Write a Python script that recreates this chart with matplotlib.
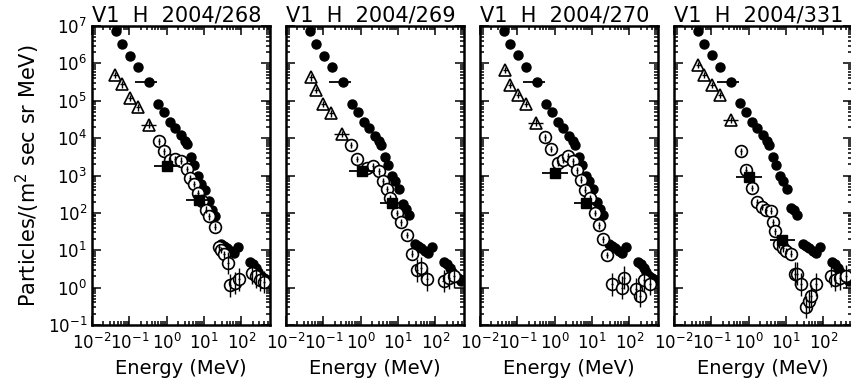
import numpy as np
import matplotlib.pyplot as plt
from matplotlib.ticker import LogLocator

titles = ['V1  H  2004/268', 'V1  H  2004/269', 'V1  H  2004/270', 'V1  H  2004/331']

# low energy filled circles (same energies in every panel)
lo_E = [0.044, 0.065, 0.107, 0.17, 0.34, 0.60, 0.85, 1.2, 1.7, 2.35,
        3.1, 3.55, 4.4, 5.5, 6.8, 8.3, 10.5, 13.8, 16.2, 19.5]
lo_J = [
    [7.2e6, 3.4e6, 1.6e6, 7.8e5, 3.2e5, 8.3e4, 4.9e4, 2.7e4, 1.85e4, 1.18e4,
     8.5e3, 6.9e3, 3.2e3, 1.95e3, 950, 590, 420, 205, 123, 81],
    [7.2e6, 3.4e6, 1.6e6, 7.8e5, 3.2e5, 8.3e4, 4.9e4, 2.7e4, 1.85e4, 1.15e4,
     8.5e3, 6.4e3, 3.2e3, 1.95e3, 1.0e3, 700, 440, 178, 128, 90],
    [7.2e6, 3.4e6, 1.65e6, 7.8e5, 3.2e5, 8.3e4, 4.9e4, 2.7e4, 1.85e4, 1.15e4,
     8.5e3, 6.4e3, 3.2e3, 1.95e3, 1.0e3, 700, 440, 190, 128, 90],
    [7.2e6, 3.4e6, 1.65e6, 7.8e5, 3.2e5, 8.6e4, 4.9e4, 2.7e4, 1.85e4, 1.18e4,
     8.5e3, 6.4e3, 3.2e3, 1.95e3, 1.0e3, 730, 440, 136, 123, 90],
]
lo_xerr_i = 4  # point with horizontal bar

# filled circles at ~20-90 MeV and ~150-500 MeV
mid_E = [27.5, 34, 42, 51, 63, 83]
mid_J = [14.8, 13.2, 11.2, 9.5, 8.3, 12.0]
hi_E = [166, 200, 240, 282, 331, 398, 479]
hi_J = [4.9, 4.2, 3.3, 2.6, 2.1, 1.8, 1.5]

# open circles with error bars
oc_E = [
    [0.61, 0.83, 1.25, 1.66, 2.47, 3.5, 4.3, 5.3, 6.9, 8.8, 11.3, 13.9, 20,
     24.7, 28.8, 33.7, 44, 50.7, 66, 85, 186, 251, 316, 398],
    [0.56, 0.81, 1.51, 2.18, 3.09, 4.05, 4.97, 6.1, 9.6, 11.8, 17.8, 24.2,
     31.6, 40.5, 61, 164, 224, 316],
    [0.56, 0.81, 1.23, 1.67, 2.28, 3.09, 4.05, 4.97, 6.4, 8.7, 11.8, 15.1,
     19.7, 25.8, 34.4, 63.7, 72, 154, 189, 251, 355],
    [0.61, 0.87, 1.23, 1.71, 2.28, 2.97, 3.88, 4.49, 4.97, 6.4, 8.3, 10.2,
     13.3, 17.1, 20.1, 25.8, 35.1, 40.5, 47.8, 65, 157, 200, 282, 398],
]
oc_J = [
    [8150, 4400, 2630, 2690, 2490, 1510, 850, 590, 340, 204, 123, 81, 43,
     12, 10, 7.7, 4.6, 1.15, 1.35, 1.66, 2.5, 2.0, 1.6, 1.4],
    [6640, 2810, 1585, 1750, 1290, 700, 437, 251, 100, 56, 25.4, 8.1,
     2.9, 3.4, 1.67, 1.5, 1.8, 2.0],
    [10400, 5200, 2150, 2640, 3240, 2390, 1370, 775, 420, 251, 100, 46,
     19.5, 7.4, 1.23, 1.0, 1.85, 0.9, 0.6, 1.6, 1.26],
    [4400, 1430, 465, 196, 142, 123, 115, 56, 32, 14.3, 11.2, 9.5, 8.1,
     2.36, 2.36, 1.23, 0.305, 0.44, 0.6, 1.23, 2.05, 1.58, 1.78, 2.0],
]

# filled squares
sq_E = [[1.0, 7.2], [1.1, 7.0], [1.0, 7.0], [1.0, 8.0]]
sq_J = [[1750, 227], [1300, 185], [1170, 185], [894, 18.3]]

# open triangles
tr_E = [
    [0.042, 0.064, 0.106, 0.17, 0.34],
    [0.047, 0.062, 0.10, 0.164, 0.32],
    [0.047, 0.062, 0.104, 0.17, 0.32],
    [0.044, 0.064, 0.106, 0.174, 0.34],
]
tr_J = [
    [4.9e5, 2.75e5, 1.2e5, 6.6e4, 2.3e4],
    [4.2e5, 1.95e5, 8.1e4, 4.6e4, 1.28e4],
    [6.6e5, 2.6e5, 1.43e5, 8.2e4, 2.6e4],
    [9.0e5, 4.9e5, 2.64e5, 1.43e5, 3.1e4],
]

plt.rcParams['font.family'] = 'DejaVu Sans'
fig = plt.figure(figsize=(8.51, 3.90), dpi=100)

W = 178 / 851
H = 299 / 390
B = 1 - 325 / 390
lefts = [92, 286, 480, 674]


def logerr(x, f):
    x = np.asarray(x, float)
    return [x - x / f, x * f - x]


for k in range(4):
    ax = fig.add_axes([lefts[k] / 851, B, W, H])
    ax.set_xscale('log')
    ax.set_yscale('log')
    ax.set_xlim(1e-2, 580)
    ax.set_ylim(1e-1, 1e7)

    # low energy filled circles
    E = np.array(lo_E)
    J = np.array(lo_J[k])
    ax.plot(E, J, 'o', color='black', ms=6.5, zorder=4)
    ax.errorbar(E[lo_xerr_i], J[lo_xerr_i],
                xerr=[[E[lo_xerr_i] * 0.58], [E[lo_xerr_i] * 0.6]],
                fmt='none', ecolor='black', elinewidth=1.3, zorder=4)

    ax.plot(mid_E, mid_J, 'o', color='black', ms=6.5, zorder=4)
    ax.plot(hi_E, hi_J, 'o', color='black', ms=6.5, zorder=4)

    # open circles, error bars drawn over the markers
    E = np.array(oc_E[k])
    J = np.array(oc_J[k])
    f = np.where(J > 6, 1.22, 2.0)
    ax.plot(E, J, 'o', mfc='white', mec='black', mew=1.2, ms=8.5, zorder=5)
    ax.errorbar(E, J, yerr=[J - J / f, J * f - J], xerr=[E * 0.06, E * 0.06],
                fmt='none', ecolor='black', elinewidth=1.0, zorder=6)

    # triangles
    E = np.array(tr_E[k])
    J = np.array(tr_J[k])
    xe = np.array([0.12, 0.12, 0.12, 0.12, 0.4])
    ax.plot(E, J, '^', mfc='white', mec='black', mew=1.2, ms=8.5, zorder=5)
    ax.errorbar(E, J, yerr=logerr(J, 1.22), xerr=[E * xe, E * xe * 1.4],
                fmt='none', ecolor='black', elinewidth=1.0, zorder=6)

    # squares
    E = np.array(sq_E[k])
    J = np.array(sq_J[k])
    ax.errorbar(E, J, xerr=logerr(E, 2.2),
                fmt='s', color='black', ms=6.5, elinewidth=1.3, zorder=7)

    for s in ax.spines.values():
        s.set_linewidth(1.8)
    ax.tick_params(which='both', direction='in', top=True, right=True,
                   width=1.1, labelsize=12)
    ax.tick_params(which='major', length=6.5)
    ax.tick_params(which='minor', length=3)
    ax.tick_params(axis='x', pad=6)
    ax.set_xticks([1e-2, 1e-1, 1e0, 1e1, 1e2])
    ax.set_xticklabels(['$10^{-2}$', '$10^{-1}$', '$10^{0}$', '$10^{1}$', '$10^{2}$'])
    ax.xaxis.set_minor_locator(LogLocator(base=10, subs=np.arange(2, 10), numticks=20))
    ax.yaxis.set_minor_locator(LogLocator(base=10, subs=np.arange(2, 10), numticks=20))
    ax.set_yticks([10.0 ** p for p in range(-1, 8)])
    if k == 0:
        ax.set_yticklabels(['$10^{%d}$' % p for p in range(-1, 8)])
        ax.set_ylabel('Particles/(m$^2$ sec sr MeV)', fontsize=15, labelpad=4)
    else:
        ax.set_yticklabels([])
    ax.set_xlabel('Energy (MeV)', fontsize=14, labelpad=4)
    ax.set_title(titles[k], loc='left', fontsize=15, pad=3)

fig.savefig('out.png', dpi=100)
